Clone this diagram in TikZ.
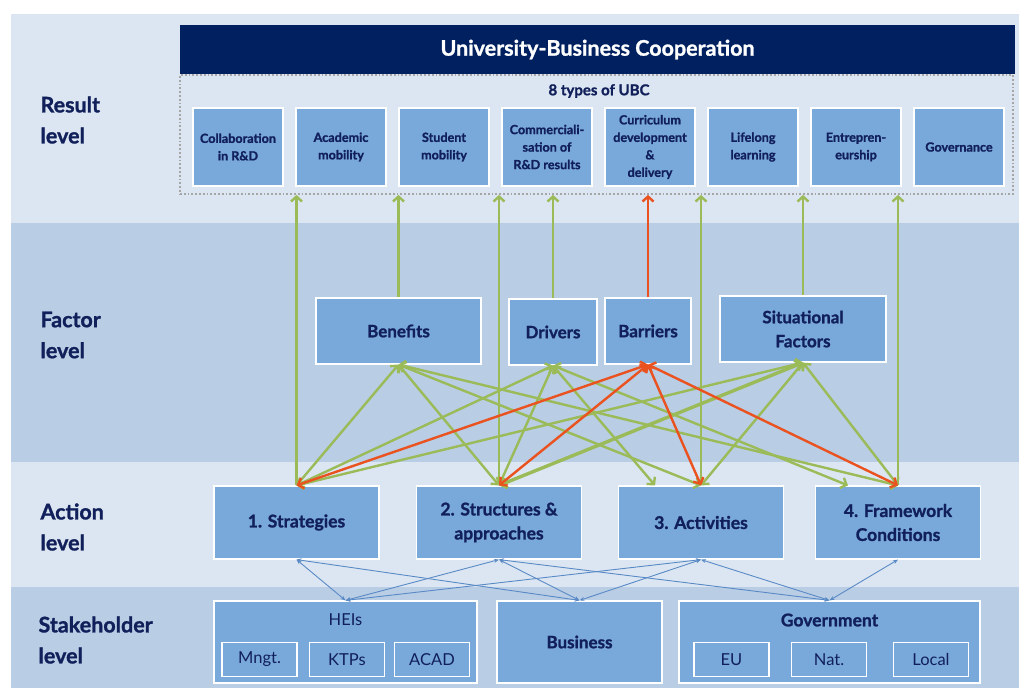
\documentclass[tikz,border=0pt]{standalone}
\usepackage{fontspec}
\setmainfont{Lato}[BoldFeatures={FakeBold=1.2}]
\usetikzlibrary{arrows.meta}

\definecolor{bandlight}{HTML}{DCE6F2}
\definecolor{banddark}{HTML}{B9CDE5}
\definecolor{boxblue}{HTML}{79A8DA}
\definecolor{ubcnavy}{HTML}{002060}
\definecolor{txtnavy}{HTML}{11205A}
\definecolor{posgreen}{HTML}{9BBB59}
\definecolor{negred}{HTML}{EA531F}
\definecolor{linkblue}{HTML}{5A8AC6}

\tikzset{
  box/.style={fill=boxblue, draw=white, line width=1.2pt, inner sep=2pt, align=center, text=txtnavy},
  typebox/.style={box, minimum width=90pt, minimum height=78pt, font=\bfseries\fontsize{12.6}{17.5}\selectfont},
  factorbox/.style={box, minimum height=66pt, font=\bfseries\fontsize{17}{24}\selectfont},
  actbox/.style={box, minimum width=165pt, minimum height=73pt, font=\bfseries\fontsize{17.5}{24}\selectfont},
  stakebox/.style={box, minimum height=82pt},
  subbox/.style={box, minimum width=75pt, minimum height=34pt, font=\fontsize{16.5}{18}\selectfont},
  lvl/.style={anchor=west, align=left, text=txtnavy, font=\bfseries\fontsize{21.5}{31}\selectfont},
  gainlink/.style={posgreen, line width=2.4pt, {Straight Barb[length=5pt,width=11pt]}-{Straight Barb[length=5pt,width=11pt]}},
  hurdlelink/.style={gainlink, negred},
  rise/.style={posgreen, line width=2.4pt, -{Straight Barb[length=5pt,width=11pt]}},
  link/.style={linkblue, line width=0.9pt, {Stealth[length=5pt,width=4pt]}-{Stealth[length=5pt,width=4pt]}}
}

\begin{document}
\begin{tikzpicture}[x=1pt,y=-1pt]
\useasboundingbox (0,0) rectangle (1019,688);

% level bands
\fill[bandlight] (11,14) rectangle (1019,223);
\fill[banddark] (11,223) rectangle (1019,462);
\fill[bandlight] (11,462) rectangle (1019,587);
\fill[banddark] (11,587) rectangle (1019,688);

\node[lvl] (lres) at (37,120) {Result\\level};
\node[lvl] (lfac) at (37,335) {Factor\\level};
\node[lvl] (lact) at (37,527) {Action\\level};
\node[lvl] (lsta) at (35,640) {Stakeholder\\level};

% result level
\node[fill=ubcnavy, text=white, minimum width=835pt, minimum height=49pt, font=\bfseries\fontsize{21.5}{22}\selectfont] (ubc) at (597.5,49.5) {University-Business Cooperation};
\node[draw=gray!70, dotted, line width=1.8pt, minimum width=833pt, minimum height=119pt] (types) at (596.5,134.5) {};
\node[text=txtnavy, font=\bfseries\fontsize{15}{16}\selectfont] (typelbl) at (599,91) {8 types of UBC};
\foreach \i/\t in {1/{Collaboration\\in R\&D}, 2/{Academic\\mobility}, 3/{Student\\mobility},
  4/{Commerciali-\\sation of\\R\&D results}, 5/{Curriculum\\development\\\&\\delivery},
  6/{Lifelong\\learning}, 7/{Entrepren-\\eurship}, 8/{Governance}}
  \node[typebox] (t\i) at ({238+(\i-1)*103},147) {\t};

% factor level
\node[factorbox, minimum width=165pt] (ben) at (398.5,331) {Benefits};
\node[factorbox, minimum width=88pt] (drv) at (553,332) {Drivers};
\node[factorbox, minimum width=86pt] (bar) at (648,331) {Barriers};
\node[factorbox, minimum width=166pt] (sit) at (803,329) {Situational\\Factors};

% action level
\node[actbox] (str) at (296.5,522.5) {1. Strategies};
\node[actbox] (sta) at (499,522.5) {2. Structures \&\\approaches};
\node[actbox] (act) at (701,522.5) {3. Activities};
\node[actbox] (frm) at (898,522.5) {4. Framework\\Conditions};

% stakeholder level
\node[stakebox, minimum width=263pt] (hei) at (345.5,642) {};
\node[stakebox, minimum width=165pt, font=\bfseries\fontsize{17}{18}\selectfont] (bus) at (579.5,642) {Business};
\node[stakebox, minimum width=301pt] (gov) at (829.5,642) {};
\node[text=txtnavy, font=\fontsize{16.5}{18}\selectfont] (heilbl) at (345.5,620) {HEIs};
\node[text=txtnavy, font=\bfseries\fontsize{17.5}{18}\selectfont] (govlbl) at (829.5,620) {Government};
\node[subbox] (mng) at (259.5,659.5) {Mngt.};
\node[subbox] (ktp) at (347,659.5) {KTPs};
\node[subbox] (acd) at (432,659.5) {ACAD};
\node[subbox] (eu) at (731.5,659.5) {EU};
\node[subbox] (nat) at (829,659.5) {Nat.};
\node[subbox] (loc) at (931,659.5) {Local};

% arrows up to the 8 types
\foreach \n in {str,sta,act,frm,ben,drv,sit}
  \draw[rise] (\n.north) -- (\n.north |- types.south);
\draw[rise, negred] (bar.north) -- (bar.north |- types.south);

% factors <-> actions
\foreach \a in {str,sta,act,frm}
  \draw[gainlink] (ben.south) -- (\a.north);
\foreach \a/\s in {str/0,sta/0,act/-46,frm/-50}
  \draw[gainlink] (drv.south) -- ([xshift=\s pt]\a.north);
\foreach \a in {str,act,frm}
  \draw[gainlink] (sit.south) -- (\a.north);
\draw[gainlink, line width=3.4pt] (sit.south) -- (sta.north);
\foreach \a in {str,sta,act,frm}
  \draw[hurdlelink] (bar.south) -- (\a.north);

% stakeholders <-> actions
\foreach \a/\s in {str/hei,str/bus,sta/hei,sta/bus,sta/gov,act/hei,act/bus,act/gov,frm/gov}
  \draw[link] (\a.south) -- (\s.north);
\end{tikzpicture}
\end{document}
